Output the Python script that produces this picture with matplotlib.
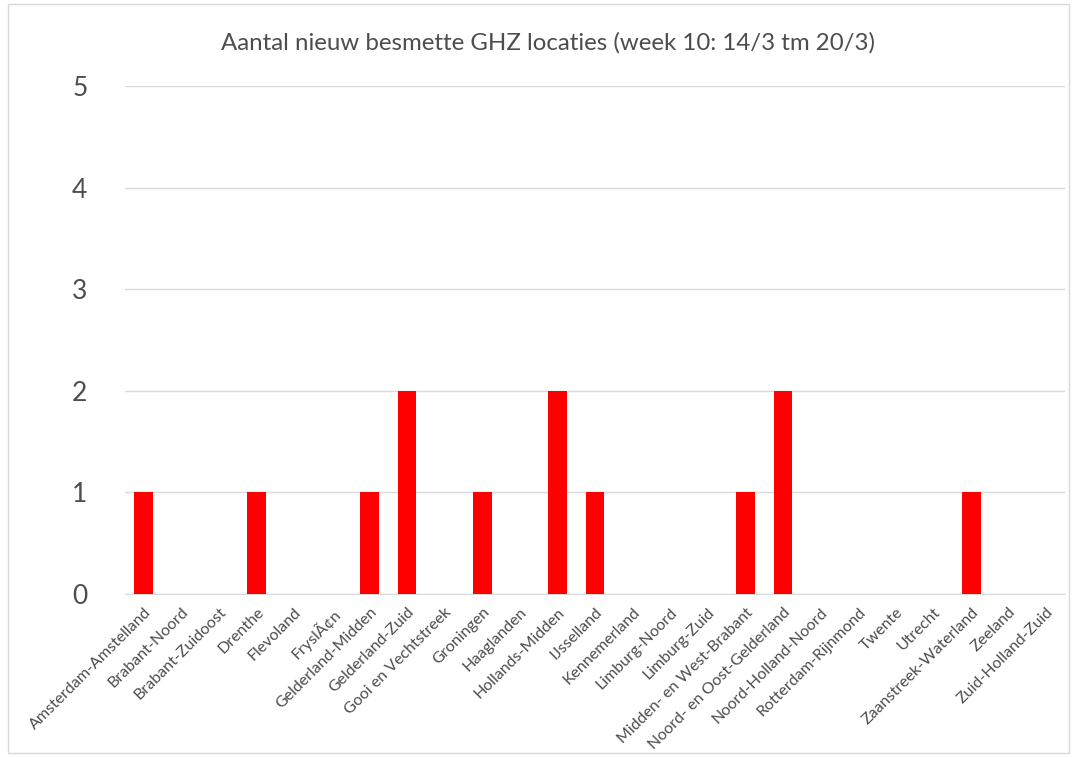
import matplotlib
matplotlib.use("Agg")
from matplotlib import pyplot as plt
from matplotlib.patches import Rectangle

regions = ["Amsterdam-Amstelland", "Brabant-Noord", "Brabant-Zuidoost", "Drenthe",
           "Flevoland", "FryslÃ¢n", "Gelderland-Midden", "Gelderland-Zuid",
           "Gooi en Vechtstreek", "Groningen", "Haaglanden", "Hollands-Midden",
           "IJsselland", "Kennemerland", "Limburg-Noord", "Limburg-Zuid",
           "Midden- en West-Brabant", "Noord- en Oost-Gelderland", "Noord-Holland-Noord",
           "Rotterdam-Rijnmond", "Twente", "Utrecht", "Zaanstreek-Waterland",
           "Zeeland", "Zuid-Holland-Zuid"]
new_locations = [1, 0, 0, 1, 0, 0, 1, 2, 0, 1, 0, 2, 1, 0, 0, 0, 1, 2, 0, 0, 0, 0, 1, 0, 0]
y_ticks = [0, 1, 2, 3, 4, 5]

plt.rcParams['font.family'] = ['Lato', 'DejaVu Sans']
text_color = '#4d4d4d'

fig = plt.figure(figsize=(10.77, 7.57), dpi=100)
ax = fig.add_axes([0.116, 0.2153, 0.873, 0.6711])

x = list(range(len(regions)))
ax.bar(x, new_locations, width=0.5, color='#ff0000', zorder=3)

ax.set_ylim(0, 5)
ax.set_xlim(-0.5, len(regions) - 0.5)
ax.set_yticks(y_ticks)
ax.set_yticklabels([str(v) for v in y_ticks], fontsize=19, color=text_color)
ax.yaxis.grid(True, color='#d9d9d9', linewidth=1, zorder=0)
ax.tick_params(axis='y', length=0, pad=27)
ax.set_xticks(x)
ax.set_xticklabels(regions, rotation=45, ha='right', rotation_mode='anchor',
                   fontsize=11.5, color=text_color)
ax.tick_params(axis='x', length=0, pad=8)

for side in ['top', 'right', 'left']:
    ax.spines[side].set_visible(False)
ax.spines['bottom'].set_color('#d9d9d9')

fig.text(0.509, 0.943, 'Aantal nieuw besmette GHZ locaties (week 10: 14/3 tm 20/3)',
         ha='center', va='center', fontsize=17.3, color=text_color)

fig.patches.append(Rectangle((0.007, 0.005), 0.986, 0.99, transform=fig.transFigure,
                             fill=False, edgecolor='#d9d9d9', linewidth=1))

plt.savefig('out.png', dpi=100)
